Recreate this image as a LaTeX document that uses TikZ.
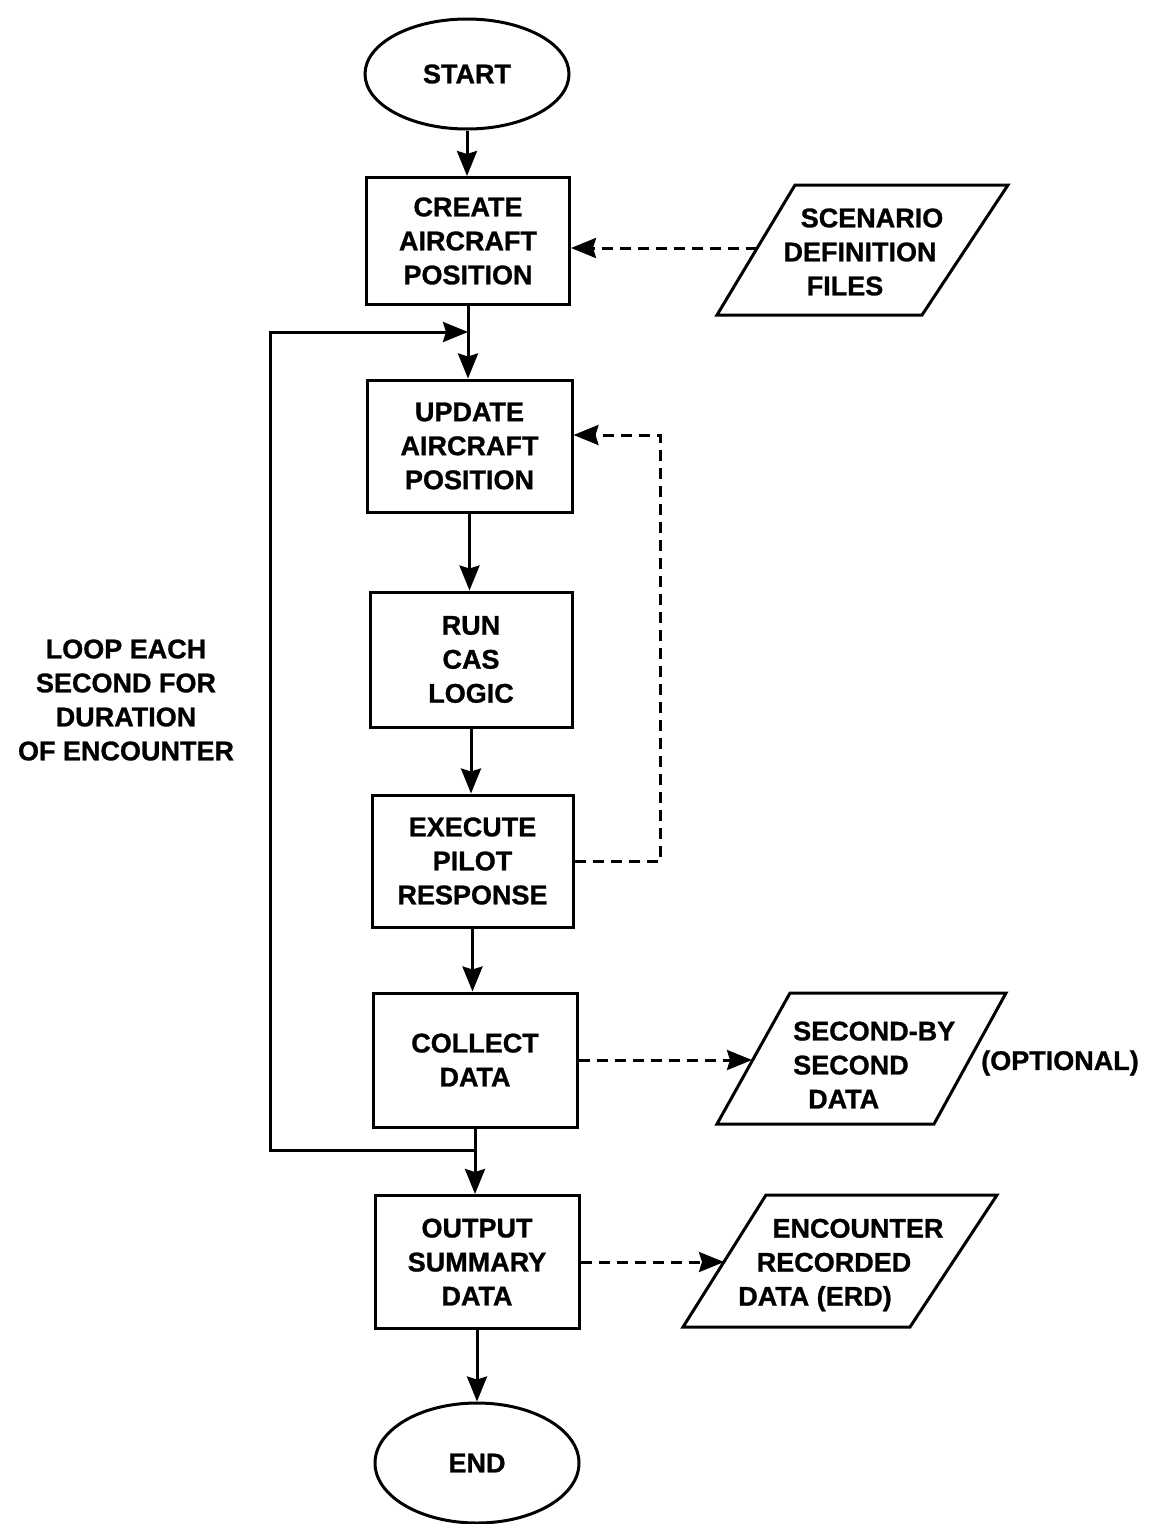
\documentclass[tikz,border=0pt]{standalone}
\usepackage{fontspec}
\setmainfont{Liberation Sans}[BoldFeatures={FakeBold=1}]
\usetikzlibrary{shapes.geometric,arrows.meta,calc}
\begin{document}
\begin{tikzpicture}[x=1pt,y=-1pt,
  every node/.style={font=\fontsize{27}{34}\selectfont\bfseries, align=center, inner sep=0pt},
  proc/.style={draw, line width=3pt, minimum width=203pt, minimum height=132pt},
  term/.style={draw, ellipse, line width=3pt, minimum width=204pt, minimum height=110pt},
  flow/.style={line width=3pt, line join=miter, -{Stealth[length=25pt,width=20pt,inset=3pt]}},
  dflow/.style={flow, dash pattern=on 11pt off 7pt},
  iobox/.style={line width=3pt, line join=miter}]
\useasboundingbox (0,0) rectangle (1160,1524);

% main column
\node[term] (start) at (467,74) {START};
\node[proc, minimum height=127pt] (create) at (468,241) {CREATE\\AIRCRAFT\\POSITION};
\node[proc, minimum width=205pt] (update) at (469.5,446) {UPDATE\\AIRCRAFT\\POSITION};
\node[proc, minimum width=202pt, minimum height=135pt] (run) at (471,659.5) {RUN\\CAS\\LOGIC};
\node[proc, minimum width=201pt] (exec) at (472.5,861) {EXECUTE\\PILOT\\RESPONSE};
\node[proc, minimum width=204pt, minimum height=134pt] (collect) at (475,1060) {COLLECT\\DATA};
\node[proc, minimum width=204pt, minimum height=133pt] (output) at (477,1262) {OUTPUT\\SUMMARY\\DATA};
\node[term, minimum height=120pt] (end) at (477,1463) {END};

% input / output parallelograms
\draw[iobox] (795,185) -- (1008,185) -- (922,315) -- (717,315) -- cycle;
\coordinate (scenL) at (757,248);
\node (scen) at (860,252) {\hspace*{24pt}SCENARIO\\DEFINITION\\\hspace*{-30pt}FILES};

\draw[iobox] (790,993) -- (1006,993) -- (934,1124) -- (717,1124) -- cycle;
\coordinate (secL) at (752,1060);
\node[align=left, anchor=west] (sec) at (793,1065) {SECOND-BY\\SECOND\\\hspace*{15pt}DATA};
\node (opt) at (1060,1063) {(OPTIONAL)};

\draw[iobox] (766,1195) -- (997,1195) -- (910,1327) -- (683,1327) -- cycle;
\coordinate (erdL) at (724,1262);
\node (erd) at (834,1265) {\hspace*{48pt}ENCOUNTER\\RECORDED\\\hspace*{-38pt}DATA (ERD)};

% loop label
\node (loop) at (126,700) {LOOP EACH\\SECOND FOR\\DURATION\\OF ENCOUNTER};

% main flow (vertical segments)
\draw[flow] (start.south) -- (start.south |- create.north);
\draw[flow] (create.south) -- (create.south |- update.north);
\draw[flow] (update.south) -- (update.south |- run.north);
\draw[flow] (run.south) -- (run.south |- exec.north);
\draw[flow] (exec.south) -- (exec.south |- collect.north);
\draw[flow] (collect.south) -- (collect.south |- output.north);
\draw[flow] (output.south) -- (output.south |- end.north);

% loop back
\coordinate (loopin) at (468,332);
\coordinate (loopout) at (475,1150);
\coordinate (lbl) at (270,1150);
\coordinate (ltl) at (270,332);
\draw[flow] (loopout) -- (lbl) -- (ltl) -- (loopin);

% dashed connectors
\draw[dflow] (scenL) -- (scenL -| create.east);
\coordinate (fbtop) at (660,435);
\draw[dflow] (exec.east) -| (fbtop) -- (fbtop -| update.east);
\draw[dflow] (collect.east) -- (secL);
\draw[dflow] (output.east) -- (erdL);
\end{tikzpicture}
\end{document}
